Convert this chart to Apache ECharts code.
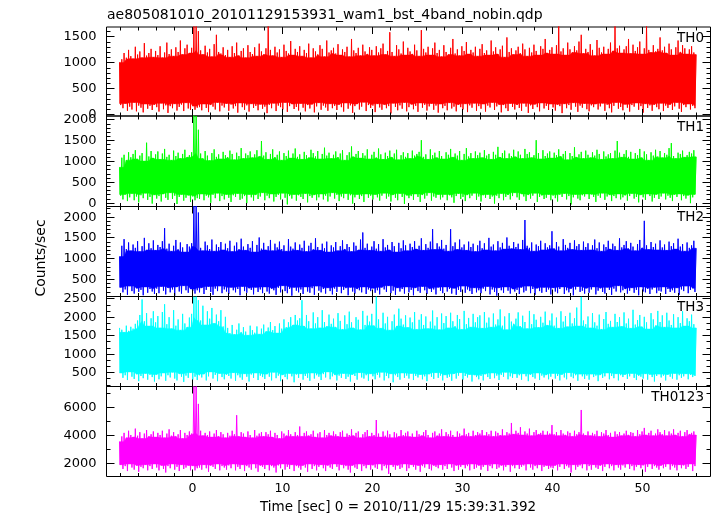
<!DOCTYPE html>
<html><head><meta charset="utf-8">
<script src="https://cdn.jsdelivr.net/npm/echarts@6/dist/echarts.min.js"></script>
<style>html,body{margin:0;padding:0;background:#fff}#c{width:717px;height:516px}</style>
</head><body><div id="c"></div>
<script>
const titleText = 'ae805081010_20101129153931_wam1_bst_4band_nobin.qdp';
const xName = 'Time [sec] 0 = 2010/11/29 15:39:31.392';
const yName = 'Counts/sec';
const panelNames = ['TH0', 'TH1', 'TH2', 'TH3', 'TH0123'];
const panelColors = ['#ff0000', '#00ff00', '#0000ff', '#00ffff', '#ff00ff'];

const tStart = -8;     // time of the first sample [s]
const step = 0.25;     // spacing of the per-interval maxima; minima sit half a step later

const xRange = [-9.45, 57.6];
const xMajorTicks = [0, 10, 20, 30, 40, 50];
const xTickLabels = ['0', '10', '20', '30', '40', '50'];
const xMinorStep = 2;

const yRanges = [[-30, 1680], [-90, 2080], [80, 2245], [115, 2550], [1065, 7430]];
const yMajorTicks = [[0, 500, 1000, 1500], [0, 500, 1000, 1500, 2000], [500, 1000, 1500, 2000], [500, 1000, 1500, 2000, 2500], [2000, 4000, 6000]];
const yTickLabels = [['0', '500', '1000', '1500'], ['0', '500', '1000', '1500', '2000'], ['500', '1000', '1500', '2000'], ['500', '1000', '1500', '2000', '2500'], ['2000', '4000', '6000']];
const yMinorSteps = [100, 100, 100, 500 / 3, 1000];

// ---- TH0 : maxima (t = -8 + 0.25 i) and minima (t = -7.875 + 0.25 i) ----
const th0Hi = [
 1000,1060,1180,1090,1240,1120,1070,1300,1150,1210,1090,1370,1130,1180,1260,1100,
 1220,1140,1310,1090,1190,1380,1160,1250,1120,1290,1200,1420,1150,1270,1340,1180,
 1280,1700,1700,1600,1230,1150,1320,1190,1260,1110,1350,1530,1200,1170,1290,1140,
 1240,1100,1310,1180,1380,1130,1220,1270,1090,1330,1200,1160,1290,1120,1360,1210,
 1150,1270,1700,1240,1130,1300,1190,1250,1100,1340,1220,1170,1410,1140,1260,1200,
 1310,1120,1240,1180,1360,1090,1270,1210,1150,1330,1260,1110,1420,1190,1230,1280,
 1170,1350,1140,1250,1200,1300,1110,1450,1230,1180,1280,1130,1340,1210,1160,1290,
 1240,1130,1310,1190,1270,1360,1150,1220,1580,1200,1120,1330,1250,1170,1400,1140,
 1280,1210,1160,1340,1230,1120,1620,1260,1190,1300,1140,1270,1380,1180,1240,1110,
 1330,1200,1150,1280,1450,1170,1250,1130,1310,1220,1390,1160,1240,1190,1300,1120,
 1260,1350,1180,1230,1140,1420,1210,1290,1160,1250,1320,1100,1480,1200,1270,1150,
 1230,1300,1170,1360,1250,1120,1280,1190,1340,1220,1140,1310,1260,1450,1180,1240,
 1290,1160,1330,1700,1210,1270,1140,1380,1250,1190,1310,1230,1400,1530,1170,1260,
 1200,1350,1240,1130,1430,1280,1190,1300,1160,1260,1380,1220,1700,1270,1320,1180,
 1250,1310,1450,1170,1340,1220,1290,1400,1160,1270,1700,1240,1190,1330,1210,1260,
 1480,1230,1300,1180,1360,1250,1140,1290,1420,1200,1330,1270,1160,1250,1310,1190,
 1150];
const th0Lo = [
 180,120,210,70,150,95,230,60,170,130,40,200,110,165,85,190,
 140,55,215,100,175,30,160,120,205,75,145,190,65,225,115,90,
 160,90,130,140,80,200,125,45,185,150,95,230,60,170,135,210,
 70,190,115,160,35,220,140,90,175,55,205,125,165,80,195,110,
 150,25,185,120,215,65,170,140,95,230,50,160,200,105,145,75,
 210,130,60,180,115,195,40,155,225,90,170,135,70,205,120,165,
 85,190,140,55,220,110,175,30,160,200,95,150,235,65,180,125,
 170,45,205,135,90,190,120,160,20,215,145,80,175,110,230,60,
 140,195,100,165,50,220,130,185,75,155,210,90,170,35,200,120,
 165,80,225,115,150,60,190,140,95,205,45,175,130,215,70,160,
 110,200,55,170,135,230,85,155,190,40,180,120,65,210,145,95,
 185,125,70,215,150,30,175,105,195,140,60,220,115,165,85,200,
 135,75,190,160,25,205,120,180,90,225,150,50,170,130,210,100,
 60,175,140,200,95,155,215,70,185,120,40,165,230,110,145,80,
 195,130,55,180,150,220,90,160,35,205,125,175,70,190,140,100,
 215,65,170,125,190,85,155,230,110,50,180,140,200,95,165,120];

// ---- TH1 ----
const th1Hi = [
 850,1080,1150,1020,1210,1090,1170,1260,1050,1130,1190,1000,1440,1110,1240,1070,
 1160,1230,1040,1180,1290,1100,1150,1020,1250,1120,1200,1060,1170,1270,1090,1140,
 1210,2100,2080,1750,1180,1060,1240,1130,1010,1190,1280,1100,1160,1050,1220,1140,
 1090,1250,1170,1030,1200,1120,1310,1060,1180,1140,1230,1080,1160,1260,1110,1480,
 1130,1210,1040,1170,1280,1090,1150,1230,1020,1190,1120,1250,1070,1180,1300,1100,
 1160,1040,1220,1140,1080,1270,1190,1110,1240,1050,1170,1320,1130,1200,1060,1150,
 1230,1090,1180,1260,1020,1140,1210,1350,1100,1170,1240,1070,1190,1130,1280,1050,
 1150,1220,1080,1300,1160,1040,1200,1120,1250,1090,1180,1270,1030,1140,1210,1100,
 1190,1060,1250,1130,1170,1220,1500,1100,1160,1040,1280,1140,1200,1080,1240,1120,
 1050,1210,1150,1290,1090,1180,1130,1240,1020,1170,1310,1110,1190,1060,1230,1140,
 1200,1080,1260,1130,1170,1040,1220,1150,1340,1090,1190,1250,1060,1180,1120,1270,
 1100,1230,1150,1060,1290,1170,1210,1080,1140,1500,1190,1050,1260,1120,1180,1230,
 1070,1200,1140,1280,1110,1170,1240,1030,1190,1120,1330,1090,1160,1220,1060,1250,
 1150,1080,1210,1130,1270,1170,1040,1230,1110,1160,1190,1060,1250,1480,1200,1090,
 1170,1260,1100,1220,1050,1190,1140,1290,1080,1230,1160,1020,1210,1130,1270,1110,
 1240,1080,1190,1150,1310,1430,1120,1060,1200,1170,1250,1090,1140,1220,1180,1260,
 1100];
const th1Lo = [
 170,80,200,40,130,220,60,150,10,180,110,230,70,140,-20,190,
 100,160,30,210,120,70,240,90,170,-30,140,200,50,120,180,20,
 150,60,110,90,210,60,170,130,0,190,110,230,40,160,80,200,
 120,20,180,140,220,70,100,160,-10,200,130,50,190,90,150,240,
 60,170,110,210,30,140,190,80,230,120,-40,160,100,200,50,180,
 140,90,220,10,160,120,190,60,130,210,80,170,30,150,240,100,
 190,40,150,110,220,70,180,-20,130,200,90,160,20,210,120,170,
 80,200,130,50,170,230,100,150,30,190,120,60,220,140,-30,180,
 110,160,70,210,140,20,190,100,170,240,50,150,120,200,80,130,
 200,60,180,130,0,160,220,90,140,40,190,110,170,230,70,150,
 30,180,120,200,90,150,-20,170,110,220,60,140,190,80,160,240,
 130,70,210,150,40,190,100,170,230,20,140,180,90,120,200,60,
 170,110,30,190,140,220,80,160,-40,130,200,100,60,180,150,210,
 90,200,140,20,170,120,230,70,150,190,40,160,110,210,80,130,
 180,50,160,220,100,140,10,190,130,70,210,160,30,120,200,90,
 150,230,80,170,120,40,190,140,210,60,160,100,180,-10,130,200];

// ---- TH2 ----
const th2Hi = [
 1040,1300,1460,1220,1380,1180,1330,1250,1410,1160,1290,1490,1200,1360,1240,1430,
 1190,1320,1270,1410,1725,1230,1350,1170,1300,1440,1210,1380,1260,1150,1340,1280,
 1360,2300,2300,2100,1250,1180,1400,1310,1220,1450,1170,1330,1270,1390,1200,1350,
 1240,1420,1160,1300,1380,1210,1470,1280,1190,1340,1250,1410,1150,1320,1500,1230,
 1370,1200,1290,1440,1180,1350,1260,1400,1220,1310,1170,1460,1280,1230,1380,1190,
 1330,1250,1420,1160,1300,1370,1210,1480,1270,1190,1350,1240,1400,1150,1310,1260,
 1390,1180,1290,1430,1220,1340,1270,1160,1380,1300,1200,1450,1620,1250,1350,1190,
 1280,1410,1230,1340,1170,1460,1260,1320,1200,1390,1290,1150,1370,1240,1430,1310,
 1180,1350,1270,1410,1220,1300,1480,1190,1340,1250,1400,1700,1210,1360,1280,1440,
 1230,1320,1170,1700,1290,1380,1210,1450,1260,1330,1190,1400,1270,1350,1160,1310,
 1420,1240,1360,1200,1490,1280,1330,1180,1410,1260,1370,1220,1500,1300,1230,1390,
 1270,1350,1210,1440,1920,1300,1250,1380,1170,1330,1290,1420,1200,1360,1260,1310,
 1650,1230,1390,1280,1180,1460,1320,1250,1370,1210,1430,1290,1340,1190,1400,1270,
 1360,1200,1310,1450,1240,1380,1170,1330,1270,1420,1220,1350,1290,1190,1480,1260,
 1320,1410,1230,1370,1280,1180,1340,1440,1250,1900,1310,1210,1390,1270,1350,1200,
 1430,1260,1330,1190,1400,1290,1360,1220,1470,1280,1340,1170,1380,1250,1310,1420,
 1240];
const th2Lo = [
 300,180,250,120,330,210,150,280,190,240,110,310,170,260,200,140,
 270,160,320,220,130,290,180,250,100,310,200,150,340,230,170,260,
 210,150,230,180,290,140,240,320,190,120,270,210,330,160,250,200,
 140,300,230,180,260,110,320,210,170,280,240,130,300,190,250,160,
 310,200,150,270,230,120,290,180,340,210,160,260,100,300,220,180,
 250,140,310,200,170,280,120,330,220,180,260,150,290,210,130,270,
 190,320,160,240,280,110,300,200,150,260,230,180,310,140,250,210,
 280,170,230,130,300,250,190,340,160,220,120,290,200,260,150,310,
 180,240,110,290,210,170,320,230,140,270,190,250,130,300,220,160,
 310,200,260,150,280,120,240,190,330,170,250,210,140,290,180,230,
 160,270,210,320,130,250,190,100,290,230,170,310,220,150,260,200,
 240,140,300,180,220,330,160,260,120,280,210,170,300,190,250,130,
 290,200,160,260,310,140,230,180,270,110,250,320,190,220,150,280,
 170,250,310,130,220,280,190,150,300,240,120,270,200,340,180,230,
 260,150,220,290,170,240,110,310,200,180,270,140,250,300,160,220,
 200,310,140,260,190,230,170,290,120,250,210,330,160,240,280,190];

// ---- TH3 ----
const th3Hi = [
 1700,1650,1580,1760,1620,1730,1680,1810,1900,2050,2470,1880,2100,1750,1960,2150,
 1850,2020,1700,2130,2340,1800,1990,1680,2180,1760,1930,1640,2080,1820,1720,1980,
 2080,2545,2545,2450,1900,2300,1780,2150,1950,2240,1820,2060,1880,2180,1740,2000,
 1700,1560,1780,1520,1650,1820,1580,1720,1600,1500,1760,1640,1570,1740,1530,1680,
 1790,1600,1710,1860,1640,1750,1560,1820,1680,1930,1720,1850,1990,1780,2050,1900,
 1960,2450,1750,2050,1880,1680,2120,1820,1990,1700,2180,1860,1740,2060,1810,1950,
 1720,2100,1890,1660,2040,1800,2140,1850,1700,1990,1920,1650,2160,1780,2030,1870,
 2080,1760,2545,1930,1690,2110,1820,2000,1640,1880,2060,1750,2220,1950,1790,2040,
 1710,1980,1850,2130,1660,1920,2070,1780,2010,1680,1870,2170,1760,1990,1650,2090,
 1830,2020,1700,2110,1880,1740,2050,1940,1660,2160,1800,1970,1720,2080,1850,1990,
 2040,1690,2130,1840,1980,1720,2090,1790,1930,2200,1760,2010,1650,2100,1870,1810,
 1950,2120,1740,2030,1860,1680,2160,1800,2070,1920,1710,2000,1840,2140,1770,1900,
 2090,1760,1980,1690,2150,1870,2020,1730,2110,1820,1960,2250,1750,2540,1900,1800,
 2010,1700,2100,1850,1760,2060,1660,1940,2130,1810,1890,1720,2080,1860,1990,1740,
 2120,1820,1950,1690,2190,1790,1910,2050,1730,2000,1850,1670,2100,1930,1760,2160,
 1860,2040,1720,2110,1900,1780,2070,1700,1990,1830,2150,1750,1960,1880,2060,1800,
 1700];
const th3Lo = [
 480,350,420,290,510,380,320,450,260,400,340,470,300,430,370,250,
 440,310,390,480,270,420,360,500,330,280,460,380,240,410,350,490,
 300,380,290,420,360,450,280,390,510,330,430,260,470,370,310,440,
 400,330,490,270,420,360,300,460,380,250,440,350,480,290,410,370,
 320,450,380,280,500,340,410,260,430,370,310,470,390,230,440,350,
 460,300,400,350,270,480,330,420,380,290,450,360,510,310,390,430,
 280,410,350,470,320,380,250,440,400,300,490,360,330,420,270,460,
 390,310,430,360,500,280,400,340,460,230,420,370,300,480,350,410,
 330,470,290,400,360,440,310,390,260,450,380,320,490,350,410,280,
 430,350,380,270,460,330,410,490,300,400,360,440,250,420,370,310,
 400,280,450,370,320,480,340,410,290,430,380,500,310,390,350,460,
 350,420,300,460,390,260,440,370,330,480,290,410,360,430,310,380,
 470,330,400,280,440,360,310,490,380,340,420,270,450,390,320,410,
 300,450,370,410,260,430,350,390,480,310,400,340,460,280,420,370,
 440,320,390,470,350,290,410,380,330,460,300,430,370,250,400,450,
 360,410,280,440,380,330,470,300,420,350,390,460,310,430,370,400];

// ---- TH0123 ----
const th0123Hi = [
 3530,3900,4150,3800,4300,4000,3850,4450,3950,4200,3750,4100,4350,3900,4050,4250,
 3850,4150,4000,4300,3800,4100,4400,3950,4200,3900,4050,4350,3750,4150,4000,4250,
 4100,7430,7430,6200,4300,3950,4150,4000,4250,3850,4100,4350,3900,4200,4050,3800,
 4150,3950,4300,4050,5400,3900,4200,4100,3850,4250,4000,3800,4350,3950,4100,4200,
 3900,4200,4050,4300,3850,4150,4000,3750,4250,4100,3950,4350,4050,3900,4200,4000,
 4600,3900,4150,4250,3950,4050,4300,3850,4100,4200,3800,4350,4000,4150,3950,4250,
 4050,3900,4200,4300,3850,4100,4000,4400,3950,4150,4250,3800,4050,4200,4350,3900,
 4150,4000,5060,4100,3850,4250,3950,4300,4050,3800,4200,4100,3900,4350,4000,4150,
 4250,3900,4100,3850,4300,4050,3950,4200,4350,4000,3800,4150,4250,3950,4100,4400,
 3900,4200,4050,4300,4000,3850,4250,4100,3950,4450,4050,4150,3900,4300,4000,4200,
 4100,4350,3950,4200,4050,4300,3900,4250,4150,4000,4400,3950,4200,4100,4850,4050,
 4300,4150,4550,4000,4250,4100,4450,3950,4200,4350,4050,4150,4300,4000,4250,4100,
 4700,4050,4200,3950,4350,4100,4000,4250,4150,3900,4300,4050,4200,5770,4100,4000,
 4250,3950,4150,4050,4300,3900,4200,4100,4350,4000,4150,3850,4250,4050,4200,3950,
 4100,4300,4000,4200,4150,3900,4350,4050,4250,4500,4000,4150,4300,3950,4100,4400,
 4200,4050,4350,3950,4250,4100,4400,4000,4150,4300,3900,4200,4350,4050,4150,4250,
 4000];
const th0123Lo = [
 1900,1600,1800,1450,1950,1700,1550,1850,1400,1750,1650,1900,1500,1800,1600,1950,
 1700,1500,1850,1600,1350,1800,1650,1950,1550,1750,1450,1900,1600,1700,1850,1500,
 1800,1500,1650,1700,1550,1900,1650,1400,1850,1750,1600,1950,1500,1800,1700,1550,
 1850,1650,1950,1500,1750,1600,1900,1450,1800,1700,1550,1950,1650,1400,1850,1750,
 1600,1900,1500,1800,1700,1350,1850,1650,1950,1550,1750,1600,1900,1450,1800,1700,
 1550,1850,1700,1400,1950,1600,1800,1500,1750,1900,1650,1450,1850,1700,1600,1950,
 1750,1500,1900,1650,1800,1550,1350,1850,1700,1600,1950,1450,1800,1650,1900,1550,
 1850,1700,1600,1950,1500,1800,1650,1250,1900,1750,1550,1850,1600,1700,1950,1450,
 1650,1900,1750,1550,1850,1400,1800,1700,1950,1600,1500,1850,1750,1650,1900,1550,
 1800,1600,1950,1700,1450,1850,1550,1750,1900,1650,1800,1500,1950,1600,1700,1850,
 1550,1750,1900,1450,1800,1650,1950,1600,1700,1850,1500,1750,1900,1400,1800,1650,
 1900,1600,1750,1850,1500,1950,1700,1550,1800,1650,1900,1450,1750,1850,1600,1700,
 1650,1850,1500,1750,1950,1600,1800,1700,1350,1900,1550,1750,1850,1650,1950,1500,
 1800,1550,1900,1700,1600,1850,1450,1750,1950,1650,1800,1500,1900,1700,1550,1850,
 1700,1950,1600,1800,1500,1750,1900,1650,1850,1400,1750,1950,1600,1800,1700,1550,
 1850,1650,1750,1950,1550,1800,1700,1500,1900,1650,1850,1600,1750,1950,1450,1800];

const panelHi = [th0Hi, th1Hi, th2Hi, th3Hi, th0123Hi];
const panelLo = [th0Lo, th1Lo, th2Lo, th3Lo, th0123Lo];

// ---------------- layout ----------------
const gridTops = [27, 116, 206.5, 296.5, 386.5];
const gridHeights = [89, 90.5, 90, 90, 90];
const gridLeft = 106.5, gridWidth = 604;
const FONT = '"DejaVu Sans", sans-serif';
const CORE_WIN = 2;   // samples on each side used for the dense core envelope

const chart = echarts.init(document.getElementById('c'), null, {renderer: 'canvas'});
const grids = [], xAxes = [], yAxes = [], series = [], graphics = [];

function zigzag(hi, lo) {
  const pts = [];
  for (let i = 0; i < hi.length; i++) {
    pts.push([tStart + i * step, hi[i]]);
    if (i < lo.length) pts.push([tStart + i * step + step / 2, lo[i]]);
  }
  return pts;
}
// dense core: the band every trace crosses (local min of maxima / local max of minima)
function coreBand(hi, lo) {
  const up = [], dn = [];
  for (let i = 0; i < hi.length; i++) {
    let m = Infinity;
    for (let j = Math.max(0, i - CORE_WIN); j <= Math.min(hi.length - 1, i + CORE_WIN); j++) m = Math.min(m, hi[j]);
    up.push([tStart + i * step, m]);
  }
  for (let i = lo.length - 1; i >= 0; i--) {
    let m = -Infinity;
    for (let j = Math.max(0, i - CORE_WIN); j <= Math.min(lo.length - 1, i + CORE_WIN); j++) m = Math.max(m, lo[j]);
    dn.push([tStart + i * step + step / 2, m]);
  }
  dn.push([tStart, dn[dn.length - 1][1]]);
  return up.concat(dn);
}

const xMinorTicks = [];
for (let t = -8; t <= 56; t += xMinorStep) if (xMajorTicks.indexOf(t) < 0) xMinorTicks.push(t);

for (let k = 0; k < 5; k++) {
  grids.push({left: gridLeft, width: gridWidth, top: gridTops[k], height: gridHeights[k],
    show: true, borderColor: '#000', borderWidth: 1, backgroundColor: 'transparent'});
  xAxes.push({type: 'value', gridIndex: k, min: xRange[0], max: xRange[1], show: false});
  yAxes.push({type: 'value', gridIndex: k, min: yRanges[k][0], max: yRanges[k][1], show: false});

  const col = panelColors[k];
  const core = coreBand(panelHi[k], panelLo[k]);
  series.push({type: 'custom', xAxisIndex: k, yAxisIndex: k, data: [[tStart, 0]], clip: true, silent: true, z: 2,
    renderItem: function (params, api) {
      return {type: 'polygon', shape: {points: core.map(p => api.coord(p))},
        style: {fill: col, stroke: col, lineWidth: 0.5}};
    }});
  series.push({type: 'line', xAxisIndex: k, yAxisIndex: k, data: zigzag(panelHi[k], panelLo[k]),
    symbol: 'none', lineStyle: {color: col, width: 1, join: 'bevel'}, silent: true, clip: true, z: 3});

  const xt = xMajorTicks.map((v, i) => [v, 1, i]).concat(xMinorTicks.map(v => [v, 0, -1]));
  const showXLabels = (k === 4);
  series.push({type: 'custom', xAxisIndex: k, yAxisIndex: k, data: xt, clip: false, silent: true, z: 10,
    renderItem: function (params, api) {
      const t = api.value(0), major = api.value(1), li = api.value(2);
      const cs = params.coordSys;
      const x = Math.round(api.coord([t, yRanges[k][0]])[0]) + 0.5;
      const len = major ? 7 : 3.5;
      const bot = cs.y + cs.height, top = cs.y;
      const ch = [
        {type: 'line', shape: {x1: x, y1: bot, x2: x, y2: bot - len}, style: {stroke: '#000', lineWidth: 1}},
        {type: 'line', shape: {x1: x, y1: top, x2: x, y2: top + len}, style: {stroke: '#000', lineWidth: 1}}
      ];
      if (showXLabels && major) {
        ch.push({type: 'text', x: x, y: bot + 6, style: {text: xTickLabels[li], textAlign: 'center',
          textVerticalAlign: 'top', font: '12.5px ' + FONT, fill: '#000'}});
      }
      return {type: 'group', children: ch};
    }});

  const yt = yMajorTicks[k].map((v, i) => [xRange[0], v, 1, i]);
  const ms = yMinorSteps[k];
  for (let j = 1; ; j++) {
    const v = j * ms;
    if (v > yRanges[k][1]) break;
    if (v < yRanges[k][0]) continue;
    if (!yMajorTicks[k].some(m => Math.abs(m - v) < 1e-6)) yt.push([xRange[0], v, 0, -1]);
  }
  series.push({type: 'custom', xAxisIndex: k, yAxisIndex: k, data: yt, clip: false, silent: true, z: 10,
    renderItem: function (params, api) {
      const v = api.value(1), major = api.value(2), li = api.value(3);
      const cs = params.coordSys;
      const y = Math.round(api.coord([xRange[0], v])[1]) + 0.5;
      const len = major ? 8 : 4;
      const L = cs.x, R = cs.x + cs.width;
      const ch = [
        {type: 'line', shape: {x1: L, y1: y, x2: L + len, y2: y}, style: {stroke: '#000', lineWidth: 1}},
        {type: 'line', shape: {x1: R, y1: y, x2: R - len, y2: y}, style: {stroke: '#000', lineWidth: 1}}
      ];
      if (major) {
        ch.push({type: 'text', x: L - 10, y: y, style: {text: yTickLabels[k][li], textAlign: 'right',
          textVerticalAlign: 'middle', font: '13px ' + FONT, fill: '#000'}});
      }
      return {type: 'group', children: ch};
    }});

  graphics.push({type: 'text', x: 704, y: gridTops[k] + 11, z: 20,
    style: {text: panelNames[k], textAlign: 'right', textVerticalAlign: 'middle', font: '13.5px ' + FONT, fill: '#000'}});
}

graphics.push({type: 'text', x: 107, y: 15, style: {text: titleText, textAlign: 'left', textVerticalAlign: 'middle',
  font: '14px ' + FONT, fill: '#000'}});
graphics.push({type: 'text', x: 41, y: 258, rotation: Math.PI / 2, style: {text: yName, textAlign: 'center',
  textVerticalAlign: 'middle', font: '14px ' + FONT, fill: '#000'}});
graphics.push({type: 'text', x: 398, y: 507, style: {text: xName, textAlign: 'center', textVerticalAlign: 'middle',
  font: '13.5px ' + FONT, fill: '#000'}});

chart.setOption({
  animation: false,
  backgroundColor: '#fff',
  grid: grids,
  xAxis: xAxes,
  yAxis: yAxes,
  series: series,
  graphic: graphics
});
</script></body></html>
